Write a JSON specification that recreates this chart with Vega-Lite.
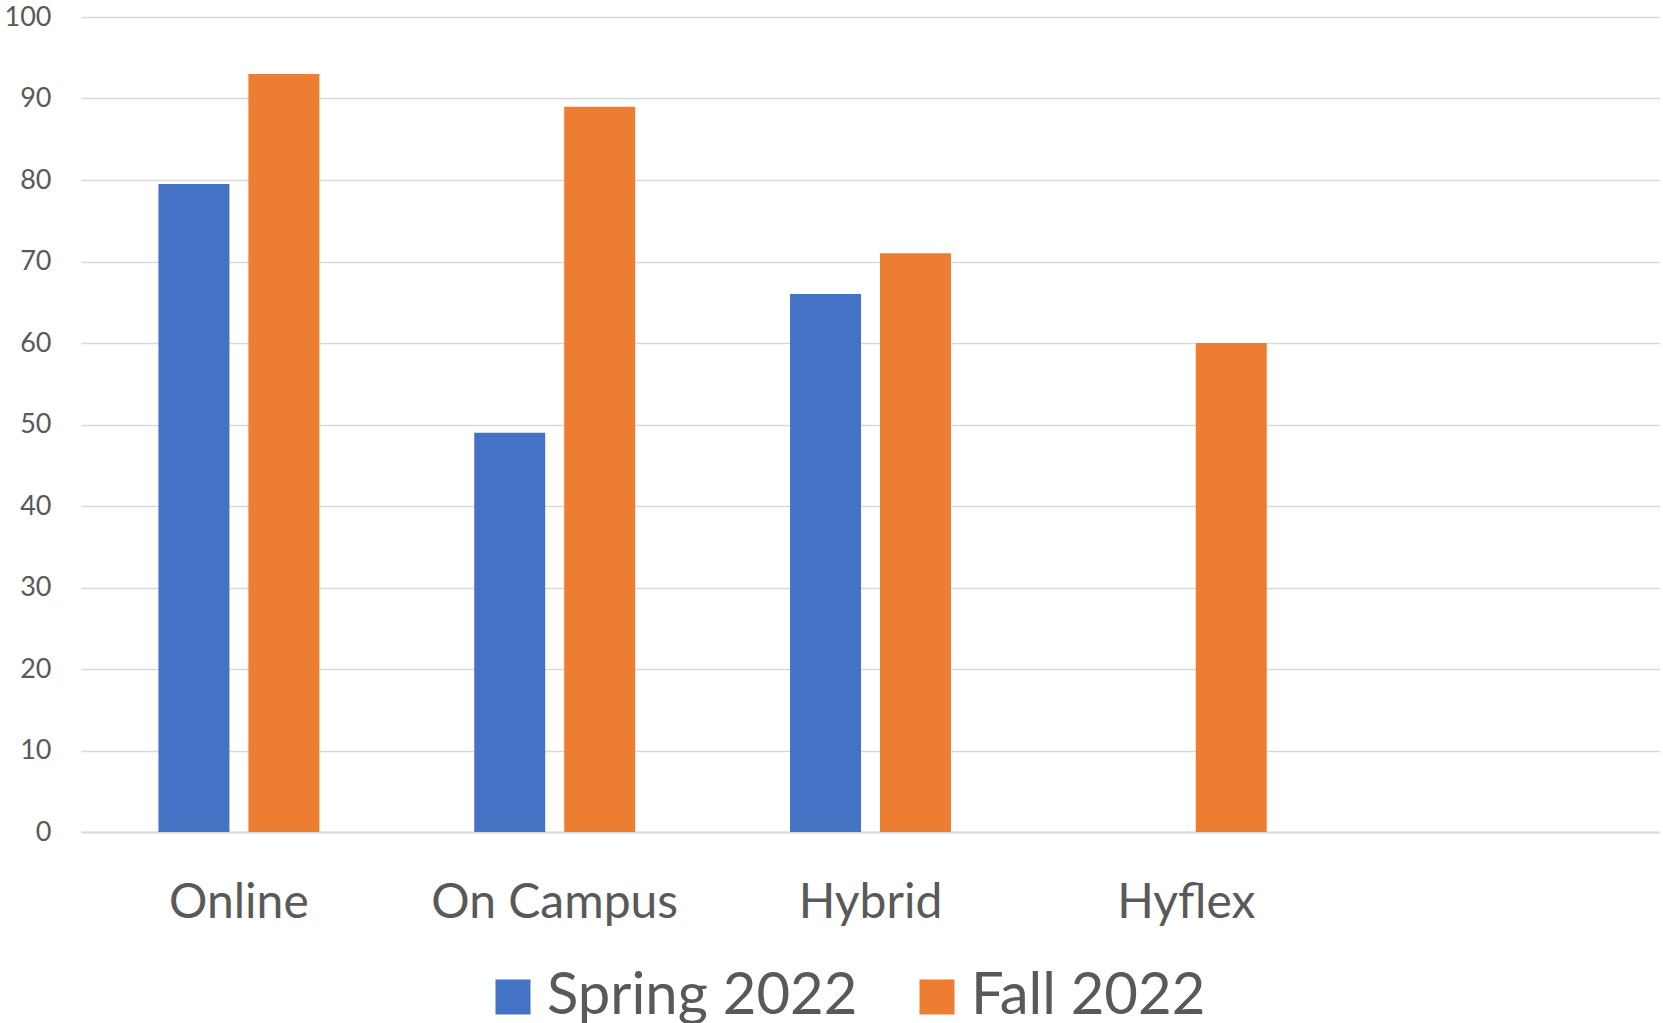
{
  "$schema": "https://vega.github.io/schema/vega-lite/v6.json",
  "width": 1579,
  "height": 815,
  "padding": {"left": 4, "top": 3, "right": 0, "bottom": 0},
  "background": "white",
  "data": {
    "values": [
      {"mode": "Online", "term": "Spring 2022", "value": 79.5},
      {"mode": "Online", "term": "Fall 2022", "value": 93},
      {"mode": "On Campus", "term": "Spring 2022", "value": 49},
      {"mode": "On Campus", "term": "Fall 2022", "value": 89},
      {"mode": "Hybrid", "term": "Spring 2022", "value": 66},
      {"mode": "Hybrid", "term": "Fall 2022", "value": 71},
      {"mode": "Hyflex", "term": "Fall 2022", "value": 60}
    ]
  },
  "mark": {"type": "bar"},
  "encoding": {
    "x": {
      "field": "mode",
      "type": "nominal",
      "sort": null,
      "scale": {"domain": ["Online", "On Campus", "Hybrid", "Hyflex", " "], "paddingInner": 0, "paddingOuter": 0},
      "axis": {
        "title": null,
        "labelAngle": 0,
        "labelFont": "Lato",
        "labelFontSize": 48,
        "labelColor": "#595959",
        "labelPadding": 47,
        "labelLimit": 600,
        "ticks": false,
        "domain": true,
        "domainColor": "#D9D9D9",
        "domainWidth": 2,
        "grid": false
      }
    },
    "xOffset": {
      "field": "term",
      "type": "nominal",
      "sort": ["Spring 2022", "Fall 2022"],
      "scale": {"domain": ["Spring 2022", "Fall 2022"], "paddingInner": 0.211, "paddingOuter": 0.861}
    },
    "y": {
      "field": "value",
      "type": "quantitative",
      "scale": {"domain": [0, 100], "nice": false},
      "axis": {
        "title": null,
        "values": [0, 10, 20, 30, 40, 50, 60, 70, 80, 90, 100],
        "labelOverlap": false,
        "labelFont": "Lato",
        "labelFontSize": 27,
        "labelColor": "#595959",
        "labelPadding": 30,
        "ticks": false,
        "domain": false,
        "grid": true,
        "gridColor": "#D9D9D9",
        "gridWidth": 1.5
      }
    },
    "color": {
      "field": "term",
      "type": "nominal",
      "scale": {"domain": ["Spring 2022", "Fall 2022"], "range": ["#4472C4", "#ED7D31"]},
      "legend": {
        "title": null,
        "orient": "none",
        "direction": "horizontal",
        "legendX": 403,
        "legendY": 951,
        "symbolType": "square",
        "symbolSize": 1225,
        "symbolStrokeWidth": 0,
        "symbolOpacity": 1,
        "labelFont": "Lato",
        "labelFontSize": 58,
        "labelColor": "#595959",
        "labelOffset": 5,
        "columnPadding": 50,
        "labelLimit": 600
      }
    }
  },
  "config": {"view": {"stroke": null}}
}
